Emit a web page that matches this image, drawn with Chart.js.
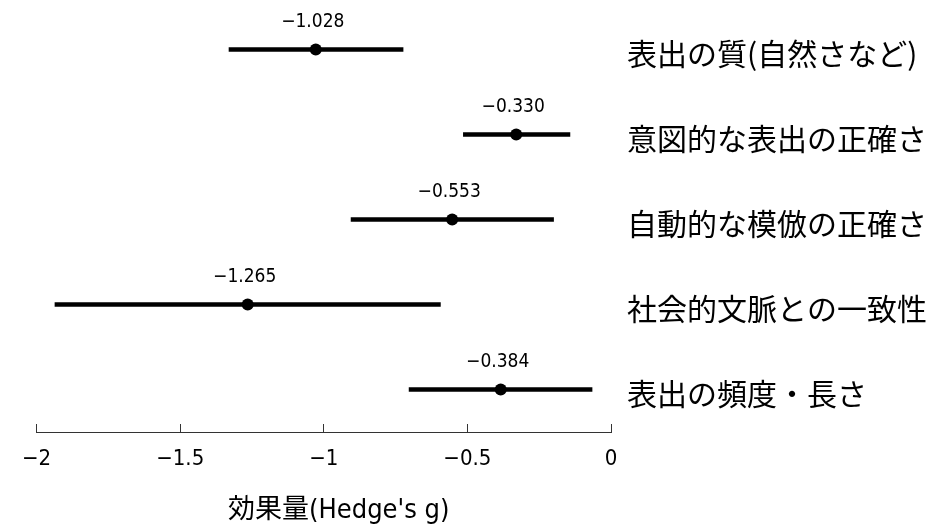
<!DOCTYPE html>
<html>
<head>
<meta charset="utf-8">
<script src="https://cdn.jsdelivr.net/npm/chart.js@4"></script>
<style>
  body { margin: 0; background: #fff; }
  #wrap { width: 930px; height: 528px; }
</style>
</head>
<body>
<div id="wrap"><canvas id="myChart"></canvas></div>
<script>
// forest plot: effect sizes with confidence intervals
const outcomes = ['表出の質(自然さなど)', '意図的な表出の正確さ', '自動的な模倣の正確さ', '社会的文脈との一致性', '表出の頻度・長さ'];
const effect = [-1.028, -0.330, -0.553, -1.265, -0.384];
const ciLow = [-1.330, -0.514, -0.905, -1.936, -0.703];
const ciHigh = [-0.724, -0.143, -0.200, -0.594, -0.066];
const xTicks = [-2, -1.5, -1, -0.5, 0];
const xTitle = "効果量(Hedge's g)";

const narrow = "'Liberation Sans Narrow', 'DejaVu Sans Condensed', 'Noto Sans CJK JP', sans-serif";
const jp = "'Noto Sans CJK JP', sans-serif";

function minus(v) {
    return v < 0 ? '\u2212' + String(Math.abs(v)) : String(v);
}

// value above each point
const valueLabels = {
    id: 'valueLabels',
    afterDatasetsDraw(chart) {
        const ctx = chart.ctx;
        const meta = chart.getDatasetMeta(0);
        ctx.save();
        ctx.font = '19px ' + narrow;
        ctx.fillStyle = '#000';
        ctx.textAlign = 'center';
        ctx.textBaseline = 'middle';
        meta.data.forEach((pt, i) => {
            ctx.fillText('\u2212' + Math.abs(effect[i]).toFixed(3), pt.x - 3, pt.y - 27);
        });
        ctx.restore();
    }
};

// axis title sits a bit right of the plot centre in the original
const axisTitle = {
    id: 'axisTitle',
    afterDraw(chart) {
        const x = chart.scales.x;
        const ctx = chart.ctx;
        ctx.save();
        ctx.font = '27px ' + narrow;
        ctx.fillStyle = '#000';
        ctx.textAlign = 'center';
        ctx.textBaseline = 'middle';
        ctx.fillText(xTitle, (x.left + x.right) / 2 + 15, x.bottom - 17);
        ctx.restore();
    }
};

const ctx = document.getElementById('myChart').getContext('2d');

const myChart = new Chart(ctx, {
    type: 'bar',
    data: {
        labels: outcomes,
        datasets: [{
            type: 'line',
            data: effect,
            showLine: false,
            pointRadius: 6,
            pointHoverRadius: 6,
            pointBackgroundColor: '#000',
            pointBorderWidth: 0,
            order: 1
        }, {
            data: ciLow.map((lo, i) => [lo, ciHigh[i]]),
            backgroundColor: '#000',
            borderWidth: 0,
            barThickness: 4,
            order: 2
        }]
    },
    options: {
        indexAxis: 'y',
        responsive: true,
        maintainAspectRatio: false,
        animation: false,
        layout: {
            padding: { left: 23, top: 7, right: 0, bottom: 0 }
        },
        plugins: {
            legend: { display: false },
            tooltip: { enabled: false }
        },
        scales: {
            x: {
                type: 'linear',
                min: -2,
                max: 0,
                afterBuildTicks: (scale) => {
                    scale.ticks = xTicks.map(v => ({ value: v }));
                },
                afterFit: (scale) => {
                    scale.height = 96;
                },
                ticks: {
                    callback: (v) => minus(v),
                    font: { size: 22, family: narrow },
                    color: '#000',
                    padding: 22,
                    maxRotation: 0
                },
                grid: {
                    drawOnChartArea: false,
                    drawTicks: true,
                    tickLength: -8,
                    color: '#333',
                    lineWidth: 1
                },
                border: { display: true, color: '#333', width: 1 }
            },
            y: {
                type: 'category',
                position: 'right',
                afterFit: (scale) => {
                    scale.width = 319;
                    scale.paddingTop = 0;
                    scale.paddingBottom = 0;
                },
                ticks: {
                    font: { size: 30, family: jp },
                    color: '#000',
                    padding: 16,
                    labelOffset: 4
                },
                grid: { display: false, drawTicks: false },
                border: { display: false }
            }
        }
    },
    plugins: [valueLabels, axisTitle]
});
</script>
</body>
</html>
